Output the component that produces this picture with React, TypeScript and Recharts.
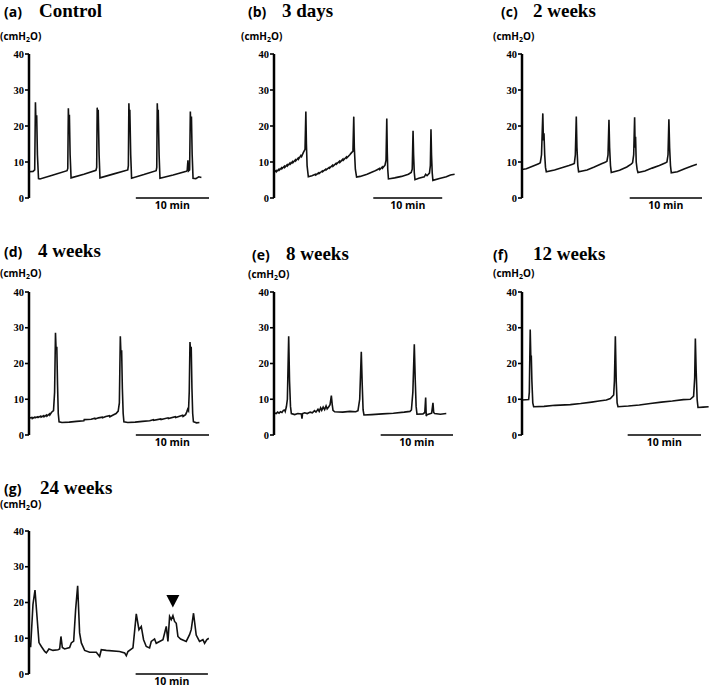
import React from 'react';
import { LineChart, Line, XAxis, YAxis, ReferenceLine, ReferenceDot } from 'recharts';

// bladder pressure traces, [time (min), pressure (cmH2O)]
const controlTrace = [
  [0, 7.3], [0.55, 7.4], [0.78, 7.8], [0.88, 26.6], [0.95, 21], [1.05, 23.0], [1.15, 12], [1.3, 5.4], [1.5, 5.3],
  [3.3, 6.4], [5.2, 7.6], [5.3, 8.2], [5.38, 24.9], [5.45, 20], [5.52, 23.1], [5.62, 12], [5.75, 5.6],
  [7.5, 6.6], [9.15, 7.7], [9.25, 8.5], [9.32, 25.1], [9.4, 21], [9.46, 24.5], [9.58, 12], [9.7, 5.6],
  [11.6, 6.7], [13.5, 7.8], [13.58, 9], [13.65, 26.3], [13.72, 22], [13.78, 24.5], [13.9, 12], [14.02, 5.5],
  [15.7, 6.5], [17.38, 7.6], [17.46, 8.5], [17.53, 26.3], [17.6, 22], [17.66, 24.5], [17.78, 12], [17.9, 5.5],
  [19.7, 6.4], [21.5, 7.4], [21.62, 7.6], [21.72, 10.5], [21.8, 7.5], [21.95, 7.8], [22.05, 24.0], [22.12, 19],
  [22.2, 22.6], [22.3, 12], [22.42, 5.5], [22.8, 5.4], [23.2, 5.9], [23.56, 5.7],
];

const day3Trace = [
  [0, 7.2], [0.3, 7.6], [0.35, 7.3], [0.7, 8.0], [0.75, 7.7], [1.1, 8.4], [1.15, 8.1], [1.5, 8.8], [1.55, 8.5],
  [1.9, 9.2], [1.95, 8.9], [2.3, 9.7], [2.35, 9.4], [2.7, 10.1], [2.75, 9.8], [3.1, 10.6], [3.15, 10.3],
  [3.5, 11.1], [3.55, 10.8], [3.9, 11.8], [4.0, 11.5], [4.25, 12.6], [4.5, 13.5], [4.62, 24.0], [4.7, 15],
  [4.8, 9], [4.98, 5.9], [5.5, 6.2], [6.0, 6.6], [6.05, 6.4], [6.5, 7.0], [6.55, 6.8], [7.0, 7.5], [7.05, 7.3],
  [7.5, 8.0], [7.55, 7.8], [8.0, 8.5], [8.05, 8.3], [8.5, 9.1], [8.55, 8.8], [9.0, 9.6], [9.05, 9.4],
  [9.5, 10.2], [9.55, 9.9], [10.0, 10.8], [10.05, 10.5], [10.5, 11.4], [10.55, 11.1], [11.0, 12.0],
  [11.25, 12.6], [11.45, 13], [11.57, 22.6], [11.65, 14], [11.8, 8], [11.98, 5.8], [12.5, 6.0], [13.5, 6.6],
  [14.5, 7.4], [14.9, 7.8], [15.3, 8.2], [15.35, 7.9], [15.7, 8.6], [15.75, 8.3], [16.1, 9.1], [16.25, 10.5],
  [16.36, 22.1], [16.43, 13], [16.5, 8], [16.6, 5.3], [17.5, 5.6], [18.5, 6.0], [19.5, 6.6], [19.9, 7.1],
  [20.05, 8], [20.17, 18.7], [20.25, 12], [20.35, 7], [20.45, 5.1], [21.0, 5.5], [21.8, 5.9], [22.0, 6.6],
  [22.2, 6.2], [22.55, 6.9], [22.68, 9], [22.77, 19.1], [22.85, 12], [22.95, 7], [23.05, 4.9], [24, 5.4],
  [25, 5.9], [25.6, 6.4], [26.2, 6.6],
];

const week2Trace = [
  [0, 7.9], [0.6, 8.1], [1.2, 8.6], [1.8, 9.1], [2.3, 9.5], [2.53, 9.8], [2.7, 12], [2.88, 23.5], [2.96, 16],
  [3.04, 18], [3.14, 12], [3.25, 8.5], [3.36, 7.3], [4.5, 7.8], [5.5, 8.4], [6.5, 9.0], [7.0, 9.4], [7.24, 9.6],
  [7.38, 12], [7.51, 22.6], [7.6, 14], [7.72, 9], [7.83, 7.3], [9, 7.8], [10, 8.6], [11, 9.5], [11.5, 9.9],
  [11.75, 10.2], [11.9, 12], [12.03, 21.7], [12.12, 14], [12.24, 9], [12.35, 7.1], [13.5, 7.7], [14.5, 8.6],
  [15.1, 9.4], [15.3, 9.8], [15.45, 12], [15.58, 22.4], [15.65, 14], [15.71, 17], [15.8, 10], [15.92, 8],
  [16.04, 7.1], [17, 7.5], [18, 8.3], [19, 9.0], [19.8, 9.7], [20.05, 10.0], [20.2, 12], [20.32, 21.9],
  [20.42, 14], [20.54, 9], [20.65, 7.0], [21.5, 7.3], [22.5, 8.1], [23.5, 8.9], [24.19, 9.4],
];

const week4Trace = [
  [0, 4.7], [0.4, 4.9], [0.45, 4.6], [0.8, 5.0], [0.85, 4.8], [1.2, 5.1], [1.25, 4.9], [1.6, 5.3], [1.65, 5.0],
  [2.0, 5.4], [2.05, 5.1], [2.4, 5.6], [2.45, 5.3], [2.8, 5.9], [2.85, 5.6], [3.06, 6.3], [3.35, 6.8], [3.5, 12],
  [3.62, 28.6], [3.7, 24], [3.8, 24.7], [3.9, 14], [4.0, 6], [4.11, 3.7], [4.5, 3.5], [5.5, 3.6], [6.5, 3.8],
  [7.5, 4.0], [7.55, 4.3], [8.5, 4.4], [9.0, 4.7], [9.05, 4.5], [9.5, 4.8], [10, 5.0], [10.05, 4.8], [10.5, 5.2],
  [11, 5.4], [11.05, 5.1], [11.5, 5.6], [11.9, 6.0], [12.19, 6.7], [12.35, 9], [12.48, 27.6], [12.56, 23],
  [12.66, 23.7], [12.76, 13], [12.87, 6], [12.97, 3.7], [13.5, 3.5], [14.5, 3.6], [15.5, 3.8], [16.5, 4.0],
  [17.0, 4.3], [17.05, 4.1], [18, 4.5], [18.05, 4.3], [19, 4.8], [19.05, 4.6], [20, 5.1], [20.05, 4.9],
  [21, 5.5], [21.05, 5.2], [21.4, 5.7], [21.55, 6.4], [21.69, 7.2], [21.8, 6.8], [21.9, 12], [22.0, 26.0],
  [22.08, 23.5], [22.17, 24.7], [22.27, 13], [22.37, 6], [22.47, 3.7], [22.9, 3.4], [23.29, 3.5],
];

const week8Trace = [
  [0, 6.2], [0.3, 6.0], [0.5, 6.4], [0.7, 6.1], [0.9, 6.5], [1.1, 6.3], [1.3, 6.9], [1.47, 7.0], [1.55, 6.6],
  [1.71, 7.9], [1.85, 10], [2.03, 27.6], [2.15, 15], [2.28, 8], [2.40, 6.0], [2.86, 5.7], [3.3, 6.0],
  [3.78, 5.9], [3.87, 4.6], [3.95, 6.0], [4.24, 6.2], [4.6, 6.0], [5.0, 6.4], [5.3, 6.2], [5.6, 6.8],
  [5.8, 6.4], [6.08, 7.2], [6.25, 6.6], [6.45, 7.6], [6.6, 6.9], [6.8, 7.8], [7.0, 7.1], [7.2, 8.1],
  [7.35, 7.3], [7.55, 7.8], [7.75, 8.5], [7.93, 11.0], [8.05, 8.5], [8.16, 6.9], [8.39, 6.5], [9.5, 6.4],
  [10.5, 6.6], [11.3, 6.5], [11.61, 6.8], [11.85, 10], [12.07, 23.3], [12.2, 14], [12.32, 7], [12.44, 5.6],
  [13.5, 5.7], [15, 5.9], [16.5, 6.1], [18, 6.4], [18.8, 6.6], [19.0, 7.0], [19.2, 12], [19.40, 25.4],
  [19.52, 16], [19.65, 8], [19.77, 5.8], [20.6, 5.9], [20.85, 6.3], [20.97, 10.5], [21.05, 5.3], [21.15, 5.7],
  [21.8, 6.1], [21.98, 9.0], [22.08, 6.3], [22.21, 6.0], [23, 5.8], [23.82, 6.0],
];

const week12Trace = [
  [0, 9.8], [0.91, 9.9], [1.0, 12], [1.12, 29.5], [1.2, 22], [1.27, 22], [1.35, 15], [1.47, 9], [1.59, 7.9],
  [3, 8.0], [4.5, 8.3], [6.59, 8.5], [8, 8.8], [9.5, 9.2], [10.5, 9.5], [11.5, 9.8], [12.05, 10.2],
  [12.5, 11.2], [12.6, 15], [12.73, 27.6], [12.85, 15], [12.97, 9], [13.09, 7.9], [14.5, 8.1], [16, 8.4],
  [17.5, 8.8], [19, 9.2], [20.5, 9.5], [22, 9.9], [22.95, 10.0], [23.4, 10.8], [23.55, 16], [23.64, 27.0],
  [23.75, 18], [23.88, 10], [24.0, 7.7], [24.7, 7.8], [25.45, 7.9],
];

const week24Trace = [
  [0, 7.7], [0.23, 7.7], [0.55, 19.5], [0.83, 23.5], [1.11, 16], [1.38, 8.8], [1.71, 7.7], [2.17, 6.3],
  [2.40, 5.9], [2.76, 7.0], [3.32, 6.6], [4.01, 6.8], [4.24, 7.0], [4.42, 10.5], [4.61, 7.4], [4.93, 7.0],
  [5.62, 7.4], [5.85, 8.7], [6.18, 9.2], [6.45, 18], [6.73, 24.7], [7.0, 11.5], [7.24, 8.7], [7.70, 6.6],
  [8.39, 6.1], [9.31, 6.1], [9.77, 4.9], [10.0, 6.8], [10.69, 6.6], [12.53, 6.3], [13.23, 5.9], [13.46, 5.1],
  [13.69, 6.3], [14.38, 7.3], [14.61, 12], [14.84, 16.8], [15.21, 12.4], [15.53, 13.3], [15.85, 9.6],
  [16.22, 7.7], [16.68, 7.3], [16.91, 9.1], [17.37, 9.8], [17.60, 8.6], [18.06, 9.1], [18.53, 9.6],
  [18.99, 13.3], [19.22, 9.1], [19.45, 16.1], [19.68, 15.2], [19.91, 16.3], [20.14, 14.7], [20.37, 14.2],
  [20.6, 10.5], [20.97, 9.8], [21.75, 9.1], [22.21, 11.0], [22.44, 12.4], [22.76, 17.0], [23.13, 10.9],
  [23.59, 9.1], [24.06, 9.6], [24.29, 8.6], [24.61, 9.6], [24.88, 10.0],
];

const yTicks = [0, 10, 20, 30, 40];
const letters = ['(a)', '(b)', '(c)', '(d)', '(e)', '(f)', '(g)'];
const titles = ['Control', '3 days', '2 weeks', '4 weeks', '8 weeks', '12 weeks', '24 weeks'];
const traces = [controlTrace, day3Trace, week2Trace, week4Trace, week8Trace, week12Trace, week24Trace];
// 24-week panel: non-voiding contraction marker
const arrowMark = { t: 19.9, p: 20.3 };

// layout of each panel on the page (axis x, y of 40 tick, plot size, x domain, scale bar end)
const panels = [
  { left: 29, top: 54, w: 180, h: 144, xMax: 24.6, bar: 24.6, lx: 4, tx: 39, ty: 17, ux: 0, uy: 40 },
  { left: 274, top: 54, w: 182, h: 144, xMax: 26.4, bar: 24.4, lx: 248, tx: 282, ty: 17, ux: 241, uy: 40 },
  { left: 522, top: 54, w: 180, h: 144, xMax: 24.9, bar: 24.9, lx: 501, tx: 533, ty: 17, ux: 493, uy: 40 },
  { left: 29, top: 292, w: 180, h: 143, xMax: 24.6, bar: 24.6, lx: 4, tx: 38, ty: 257, ux: 0, uy: 277 },
  { left: 274, top: 292, w: 179, h: 143, xMax: 24.75, bar: 24.75, lx: 252, tx: 286, ty: 260, ux: 248, uy: 278 },
  { left: 522, top: 292, w: 187, h: 143, xMax: 25.5, bar: 24.41, lx: 493, tx: 533, ty: 260, ux: 493, uy: 277 },
  { left: 29, top: 531, w: 180, h: 143, xMax: 24.9, bar: 24.75, lx: 4, tx: 40, ty: 494, ux: 0, uy: 508 },
];

const AXW = 30;
const MT = 6;
const MB = 18;

const sans = '"Open Sans", "Noto Sans", Arial, sans-serif';
const serif = '"Liberation Serif", "Times New Roman", serif';

const Triangle = (props: any) => {
  const { cx, cy } = props;
  return <polygon points={`${cx - 6.5},${cy - 6.5} ${cx + 6.5},${cy - 6.5} ${cx},${cy + 6}`} fill="#000" />;
};

const Panel = ({ idx }: { idx: number }) => {
  const g = panels[idx];
  const data = traces[idx].map(([t, p]) => ({ t, p }));
  return (
    <div style={{ position: 'absolute', left: g.left - AXW, top: g.top - MT }}>
      <LineChart
        width={AXW + g.w + 2}
        height={MT + g.h + MB}
        data={data}
        margin={{ top: MT, right: 2, bottom: MB, left: 0 }}
        style={{ overflow: 'visible' }}
      >
        <XAxis type="number" dataKey="t" domain={[0, g.xMax]} hide allowDataOverflow />
        <YAxis
          width={AXW}
          domain={[0, 40]}
          ticks={yTicks}
          interval={0}
          axisLine={{ stroke: '#000', strokeWidth: 2.5 }}
          tickLine={{ stroke: '#000', strokeWidth: 1.6 }}
          tickSize={4}
          tickMargin={1}
          tick={{ fill: '#000', fontSize: 10.5, fontWeight: 'bold', fontFamily: serif }}
        />
        <ReferenceLine
          segment={[{ x: g.bar - 10, y: 0 }, { x: g.bar, y: 0 }]}
          stroke="#000"
          strokeWidth={1.6}
          ifOverflow="visible"
          label={{ value: '10 min', position: 'bottom', offset: 4, fill: '#000', fontSize: 10.5, fontWeight: 'bold', fontFamily: sans }}
        />
        <Line
          type="linear"
          dataKey="p"
          stroke="#111"
          strokeWidth={1.6}
          dot={false}
          activeDot={false}
          isAnimationActive={false}
        />
        {idx === 6 && (
          <ReferenceDot x={arrowMark.t} y={arrowMark.p} r={6} shape={Triangle} ifOverflow="visible" />
        )}
      </LineChart>
    </div>
  );
};

const App: React.FC = () => {
  return (
    <div style={{ position: 'absolute', left: 0, top: 0, width: 709, height: 691, background: '#fff' }}>
      {panels.map((_, i) => (
        <Panel key={i} idx={i} />
      ))}
      <svg width={709} height={691} style={{ position: 'absolute', left: 0, top: 0, pointerEvents: 'none' }}>
        {panels.map((g, i) => (
          <g key={i}>
            <text x={g.lx} y={g.ty} fontFamily={sans} fontWeight="bold" fontSize={14} fill="#000">
              {letters[i]}
            </text>
            <text x={g.tx} y={g.ty} fontFamily={serif} fontWeight="bold" fontSize={19} fill="#000">
              {titles[i]}
            </text>
            <text x={g.ux} y={g.uy} fontFamily={sans} fontWeight="bold" fontSize={10} fill="#000">
              (cmH<tspan fontSize={7} dy={1.5}>2</tspan><tspan dy={-1.5}>O)</tspan>
            </text>
          </g>
        ))}
      </svg>
    </div>
  );
};

export default App;
